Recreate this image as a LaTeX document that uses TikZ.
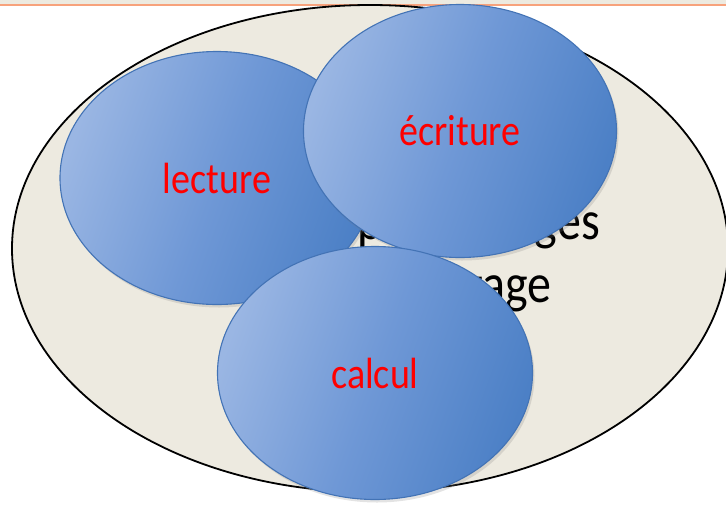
\documentclass[tikz,border=0pt]{standalone}
\usepackage{fontspec}
\setmainfont{Carlito}
\usetikzlibrary{shapes.geometric,shadows}
\definecolor{beige}{HTML}{EDEAE0}
\definecolor{topline}{HTML}{F7A27C}
\definecolor{blueL}{HTML}{9AB6E3}
\definecolor{blueM}{HTML}{6F98D6}
\definecolor{blueD}{HTML}{4C80C6}
\definecolor{blueB}{HTML}{4373B5}
\newcommand{\vstretch}[1]{\scalebox{1}[1.15]{#1}}
\tikzset{
  bubble/.style={ellipse, draw=blueB, line width=1.1pt, inner sep=0pt,
    left color=blueL, right color=blueD, middle color=blueM, shading angle=70,
    drop shadow={opacity=0.22, shadow xshift=2pt, shadow yshift=-3pt},
    text=red, font=\fontsize{38}{38}\selectfont},
  bigtext/.style={inner sep=0pt, font=\fontsize{48}{48}\selectfont, text=black}
}
\begin{document}
\begin{tikzpicture}[x=1pt,y=-1pt]
\useasboundingbox (0,0) rectangle (726,504);
\begin{scope}
\clip (0,0) rectangle (726,504);
\fill[beige] (0,0) rectangle (726,5);
\draw[topline, line width=2pt] (0,5) -- (726,5);
\node[ellipse, draw=black, fill=beige, line width=1.8pt, inner sep=0pt,
  minimum width=716pt, minimum height=487pt] (outer) at (370,248.5) {};
\node[bigtext, anchor=base east] (t1) at (600,239) {\vstretch{Apprentissages}};
\node[bigtext, anchor=base east] (t2) at (552,302) {\vstretch{du langage}};
\node[bubble, minimum width=314pt, minimum height=253pt] (lec) at (217,178) {\vstretch{lecture}};
\node[bubble, minimum width=313pt, minimum height=253pt] (ecr) at (460,131) {\vstretch{écriture}};
\node[bubble, minimum width=315pt, minimum height=253pt] (cal) at (375,373) {\vstretch{calcul}};
\end{scope}
\end{tikzpicture}
\end{document}
